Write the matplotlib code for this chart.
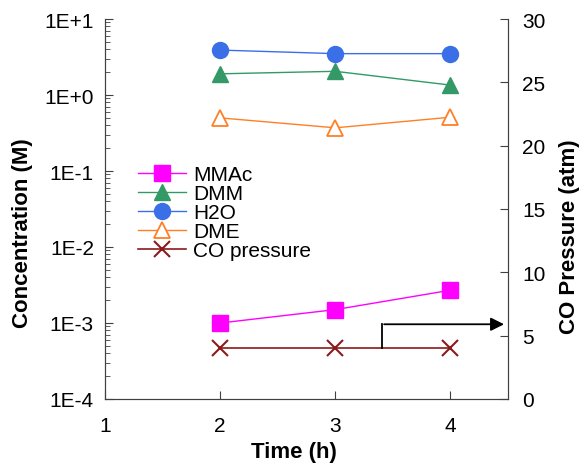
import matplotlib
matplotlib.use("Agg")
import matplotlib.pyplot as plt

plt.rcParams["font.family"] = ["Liberation Sans", "DejaVu Sans"]

time_h = [2, 3, 4]
mmac = [1.0e-3, 1.5e-3, 2.7e-3]
dmm = [1.9, 2.05, 1.35]
h2o = [3.9, 3.5, 3.5]
dme = [0.50, 0.37, 0.51]
co_pressure = [4, 4, 4]

fig = plt.figure(figsize=(5.84, 4.64), dpi=100)
ax = fig.add_axes([105 / 584, 64 / 464, 403 / 584, 380 / 464])
ax2 = ax.twinx()

l1, = ax.plot(time_h, mmac, color="#FF00FF", marker="s", ms=11, lw=1, label="MMAc")
l2, = ax.plot(time_h, dmm, color="#339966", marker="^", ms=12, lw=1, label="DMM")
l3, = ax.plot(time_h, h2o, color="#3A6FE8", marker="o", ms=11.5, lw=1, label="H2O")
l4, = ax.plot(time_h, dme, color="#FF7F27", marker="^", ms=12, lw=1,
              mfc="white", mew=1.3, label="DME")
l5, = ax2.plot(time_h, co_pressure, color="#8B1A1A", marker="x", ms=12, mew=1.5,
               lw=1.2, label="CO pressure")

ax.set_yscale("log")
ax.set_ylim(1e-4, 10)
ax.set_xlim(1, 4.5)
ax.set_xticks([1, 2, 3, 4])
ax.set_yticks([1e-4, 1e-3, 1e-2, 1e-1, 1, 10])
ax.set_yticklabels(["1E-4", "1E-3", "1E-2", "1E-1", "1E+0", "1E+1"])
ax2.set_ylim(0, 30)
ax2.set_yticks(range(0, 31, 5))

for a in (ax, ax2):
    a.tick_params(direction="in", labelsize=15, length=6, pad=8, color="#404040")
    a.tick_params(which="minor", direction="in", length=3.5, color="#404040")
    for s in a.spines.values():
        s.set_color("#404040")
ax.spines["top"].set_visible(False)
ax2.spines["top"].set_visible(False)
ax.tick_params(axis="x", pad=12)
ax2.tick_params(axis="y", pad=10)

ax.set_xlabel("Time (h)", fontsize=16, fontweight="bold", labelpad=4.5)
ax.set_ylabel("Concentration (M)", fontsize=16, fontweight="bold", labelpad=8)
ax2.set_ylabel("CO Pressure (atm)", fontsize=16, fontweight="bold", labelpad=10)
ax.xaxis.label.set_x(0.47)
ax.yaxis.label.set_y(0.44)
ax2.yaxis.label.set_y(0.43)

# arrow pointing to the right axis
ax2.plot([3.41, 3.41], [4, 5.9], color="black", lw=1.3)
ax2.annotate("", xy=(4.49, 5.9), xytext=(3.40, 5.9),
             arrowprops=dict(arrowstyle="-|>", color="black", lw=1.3, mutation_scale=20))

ax.legend(handles=[l1, l2, l3, l4, l5], loc="upper left", bbox_to_anchor=(0.082, 0.615),
          frameon=False, fontsize=15, handlelength=2.3, labelspacing=0.0,
          borderaxespad=0, borderpad=0, handletextpad=0.35)

fig.savefig("out.png", dpi=100)
